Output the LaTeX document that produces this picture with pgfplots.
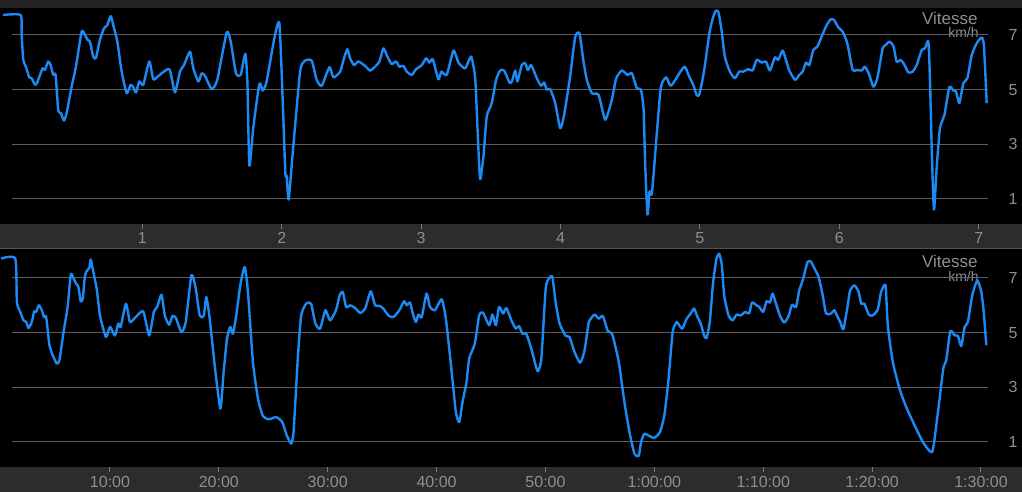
\documentclass[border=0pt]{standalone}
\usepackage{fontspec}
\setmainfont{Liberation Sans}
\usepackage{pgfplots}
\usepackage{pgfplotstable}
\pgfplotsset{compat=1.18}
\definecolor{topband}{HTML}{242424}
\definecolor{band}{HTML}{2C2C2E}
\definecolor{sep}{HTML}{555555}
\definecolor{gridc}{HTML}{5E5E5E}
\definecolor{tickc}{HTML}{7A7A7A}
\definecolor{txt}{HTML}{8E8E93}
\definecolor{linec}{HTML}{1C8AF5}

\pgfplotstableread{
km v
0 7.73
0.127 7.73
0.134 7.06
0.146 6.09
0.165 5.84
0.189 5.45
0.206 5.42
0.230 5.18
0.246 5.26
0.285 5.78
0.301 5.72
0.325 6.03
0.342 5.90
0.361 5.54
0.378 5.54
0.397 4.26
0.416 4.14
0.438 3.87
0.457 4.14
0.493 5.11
0.524 5.84
0.565 7.12
0.589 7.00
0.605 6.84
0.624 6.76
0.648 6.21
0.667 6.15
0.696 6.82
0.725 7.24
0.749 7.36
0.773 7.69
0.792 7.36
0.821 6.76
0.852 5.66
0.888 4.87
0.916 5.18
0.935 5.09
0.955 4.90
0.978 5.30
1.007 5.18
1.050 6.03
1.079 5.38
1.115 5.50
1.194 5.75
1.234 4.90
1.270 5.66
1.299 5.90
1.342 6.39
1.366 5.78
1.402 5.30
1.426 5.60
1.450 5.50
1.498 5.02
1.538 5.36
1.605 7.09
1.634 6.76
1.672 5.60
1.706 5.54
1.739 6.31
1.754 5.24
1.768 2.22
1.797 3.65
1.840 5.21
1.864 4.97
1.892 5.30
1.945 6.82
1.983 7.43
2.007 4.63
2.026 1.95
2.036 1.83
2.050 0.98
2.079 2.68
2.132 5.66
2.167 6.06
2.215 6.06
2.251 5.36
2.287 5.14
2.342 5.82
2.371 5.45
2.419 5.66
2.447 6.15
2.471 6.48
2.490 6.15
2.519 5.90
2.550 6.03
2.598 5.87
2.634 5.70
2.670 5.84
2.701 6.03
2.730 6.51
2.758 6.21
2.789 5.94
2.821 6.03
2.844 5.84
2.873 5.87
2.897 5.66
2.933 5.54
2.964 5.75
3.005 5.90
3.036 6.15
3.060 5.99
3.084 6.11
3.124 5.38
3.146 5.66
3.184 5.54
3.232 6.43
3.268 5.99
3.316 5.78
3.359 6.21
3.388 5.42
3.404 3.65
3.423 1.73
3.447 2.56
3.471 4.02
3.507 4.51
3.538 5.36
3.567 5.70
3.596 5.70
3.634 5.26
3.651 5.30
3.675 5.70
3.691 5.30
3.722 5.90
3.746 5.97
3.766 5.72
3.790 5.90
3.830 5.42
3.861 5.14
3.883 5.26
3.902 5.00
3.926 5.02
3.962 4.51
3.998 3.59
4.026 4.08
4.069 5.48
4.105 6.91
4.136 7.06
4.165 6.03
4.189 5.36
4.225 4.87
4.273 4.81
4.321 3.90
4.368 4.63
4.400 5.42
4.440 5.70
4.481 5.54
4.512 5.60
4.548 5.05
4.577 5.00
4.596 4.26
4.608 2.19
4.624 0.43
4.639 1.28
4.656 1.22
4.691 3.41
4.720 5.09
4.758 5.45
4.792 5.14
4.857 5.63
4.892 5.84
4.923 5.48
4.952 5.18
4.976 4.81
4.995 4.81
5.029 5.66
5.072 7.18
5.108 7.85
5.132 7.85
5.155 7.18
5.179 6.21
5.215 5.66
5.251 5.42
5.282 5.66
5.311 5.66
5.347 5.75
5.378 5.70
5.407 6.09
5.443 5.99
5.474 6.03
5.502 5.70
5.538 6.18
5.562 6.09
5.593 6.43
5.617 6.09
5.641 5.70
5.682 5.36
5.713 5.54
5.737 5.66
5.761 5.99
5.785 5.90
5.813 6.45
5.842 6.57
5.873 6.94
5.909 7.36
5.938 7.57
5.962 7.55
5.993 7.28
6.024 7.12
6.057 6.70
6.096 5.72
6.124 5.72
6.160 5.70
6.184 5.84
6.215 5.54
6.244 5.11
6.273 5.42
6.311 6.51
6.335 6.64
6.359 6.76
6.388 6.60
6.411 6.03
6.440 6.09
6.464 5.94
6.495 5.63
6.526 5.66
6.555 5.90
6.591 6.45
6.615 6.51
6.639 6.76
6.651 5.24
6.663 2.80
6.679 0.61
6.699 2.19
6.722 3.59
6.754 4.08
6.789 5.09
6.818 4.97
6.837 4.93
6.861 4.51
6.890 5.24
6.919 5.42
6.950 6.27
6.986 6.70
7.022 6.91
7.038 6.57
7.057 4.51
}\distdata

\pgfplotstableread{
t v
0 7.71
1.30 7.71
1.45 6.12
1.76 5.76
2.06 5.45
2.31 5.39
2.52 5.17
2.82 5.39
3.04 5.78
3.22 5.76
3.47 6.00
3.74 5.82
3.95 5.57
4.14 5.57
4.44 4.54
4.75 4.17
5.11 3.87
5.36 3.99
5.73 5.02
6.09 5.88
6.40 7.12
6.64 7.00
6.89 6.79
7.10 6.67
7.31 6.15
7.50 6.24
7.71 7.10
7.92 7.28
8.11 7.37
8.23 7.68
8.41 7.34
8.78 6.61
9.08 5.63
9.63 4.84
10.00 5.21
10.46 4.90
10.76 5.33
10.98 5.21
11.47 6.06
11.83 5.39
12.29 5.54
13.05 5.78
13.60 4.90
14.03 5.76
14.34 5.94
14.73 6.39
15.04 5.63
15.43 5.29
15.74 5.61
16.05 5.54
16.56 5.02
16.96 5.39
17.48 7.10
17.88 6.61
18.24 5.63
18.61 5.61
18.85 6.30
19.16 5.51
19.62 3.80
20.14 2.22
20.44 3.56
20.75 4.78
21.05 5.21
21.30 4.96
21.60 5.63
21.97 6.73
22.37 7.40
22.67 6.49
23.13 3.93
23.59 2.59
24.05 1.95
24.60 1.83
25.27 1.91
25.82 1.73
26.24 1.24
26.64 0.94
26.86 1.37
27.25 4.05
27.56 5.63
28.02 6.06
28.47 6.06
28.87 5.33
29.30 5.15
29.79 5.82
30.21 5.45
30.76 5.82
31.10 6.37
31.39 6.49
31.69 5.94
32.06 6.00
32.52 5.90
32.98 5.72
33.44 5.88
33.95 6.51
34.35 6.00
34.75 5.98
35.11 5.88
35.57 5.63
36.03 5.57
36.58 5.82
37.01 6.15
37.25 6.00
37.56 6.10
37.86 5.63
38.11 5.39
38.32 5.66
38.63 5.57
39.08 6.43
39.39 5.94
39.85 5.82
40.46 6.22
40.85 5.51
41.37 3.62
41.77 2.10
42.08 1.73
42.38 2.46
42.75 3.20
42.99 4.05
43.51 4.60
43.91 5.63
44.27 5.73
44.82 5.27
45.13 5.66
45.44 5.27
45.74 5.94
46.11 5.70
46.41 5.90
46.87 5.45
47.27 5.15
47.57 5.24
47.88 4.96
48.24 4.96
48.70 4.41
49.10 3.80
49.31 3.59
49.62 4.05
50.02 6.61
50.32 6.98
50.63 7.04
50.93 6.12
51.30 5.33
51.85 4.88
52.21 4.84
52.67 4.29
53.19 3.90
53.59 4.35
53.98 5.37
54.50 5.66
54.90 5.51
55.27 5.61
55.73 5.05
56.12 4.96
56.73 3.93
57.25 2.46
57.71 1.37
58.17 0.57
58.56 0.49
58.78 1.00
59.08 1.30
59.54 1.22
60.00 1.15
60.52 1.37
60.92 1.98
61.31 3.32
61.68 5.02
62.05 5.39
62.28 5.27
62.58 5.15
62.94 5.49
63.34 5.70
63.65 5.88
63.96 5.57
64.26 5.33
64.57 4.90
64.79 4.80
65.09 5.39
65.40 6.85
65.71 7.71
65.95 7.89
66.20 7.46
66.41 6.37
66.81 5.63
67.18 5.45
67.55 5.66
67.94 5.63
68.34 5.76
68.71 5.70
68.96 6.10
69.39 6.00
69.63 5.94
70.00 5.76
70.31 6.15
70.61 6.10
70.86 6.43
71.17 6.06
71.53 5.63
71.93 5.37
72.33 5.61
72.64 6.02
73.01 5.94
73.31 6.55
73.62 6.91
74.08 7.59
74.39 7.59
74.79 7.28
75.09 7.04
75.46 6.37
75.77 5.70
76.23 5.70
76.53 5.82
76.84 5.57
77.09 5.37
77.36 5.12
77.76 6.00
77.98 6.55
78.37 6.73
78.77 6.49
78.99 6.06
79.29 6.06
79.69 5.66
80.06 5.63
80.52 5.85
80.83 6.49
81.23 6.73
81.44 5.27
81.90 3.93
82.52 2.95
83.13 2.28
83.90 1.61
84.66 1.00
85.21 0.70
85.52 0.63
85.74 1.12
86.20 2.59
86.56 3.74
86.81 3.99
87.18 5.05
87.58 4.90
87.88 4.88
88.19 4.51
88.50 5.21
88.80 5.39
89.20 6.37
89.66 6.91
90.03 6.49
90.25 5.76
90.49 4.54
}\timedata

\pgfplotsset{panel/.style={
  scale only axis, width=488pt,
  axis line style={draw=none},
  clip=false,
  ymajorgrids, grid style={gridc, line width=0.5pt},
  ytick={1,3,5,7},
  yticklabels={1,3,5,7},
  yticklabel pos=right,
  ytick style={draw=none},
  yticklabel style={anchor=center, xshift=12.5pt, font=\fontsize{8}{9}\selectfont, text=txt},
  xtick pos=bottom,
  major tick length=2.5pt,
  xtick style={tickc, line width=0.5pt, yshift=-2.5pt},
  xticklabel style={anchor=base, yshift=-10pt, font=\fontsize{8}{9}\selectfont, text=txt},
}}

\begin{document}
\begin{tikzpicture}[x=0.5pt,y=0.5pt]
\path[use as bounding box] (0,0) rectangle (1022,492);
\fill[black] (0,0) rectangle (1022,492);
\fill[topband] (0,484) rectangle (1022,492);
\fill[band] (0,244) rectangle (1022,268);
\draw[sep, line width=0.75pt] (0,243.5) -- (1022,243.5);
\fill[band] (0,0) rectangle (1022,25);

\node[anchor=base east, inner sep=0pt, text=txt, font=\fontsize{8.5}{10}\selectfont] at (978,467) {Vitesse};
\node[anchor=base east, inner sep=0pt, text=txt, font=\fontsize{7}{8}\selectfont] at (979,454) {km/h};
\node[anchor=base east, inner sep=0pt, text=txt, font=\fontsize{8.5}{10}\selectfont] at (978,224) {Vitesse};
\node[anchor=base east, inner sep=0pt, text=txt, font=\fontsize{7}{8}\selectfont] at (979,210) {km/h};

\begin{axis}[panel, at={(6pt,134pt)}, anchor=south west, height=108pt,
  xmin=0.0653, xmax=7.0667, ymin=0.085, ymax=7.988,
  xtick={1,2,3,4,5,6,7}, xticklabels={1,2,3,4,5,6,7}]
\addplot[linec, line width=1.2pt, line join=round, smooth, tension=0.35] table[x=km, y=v] {\distdata};
\end{axis}

\begin{axis}[panel, at={(6pt,12.5pt)}, anchor=south west, height=108.5pt,
  xmin=1.001, xmax=90.645, ymin=0.085, ymax=8.024,
  xtick={10,20,30,40,50,60,70,80,90},
  xticklabels={10:00,20:00,30:00,40:00,50:00,1:00:00,1:10:00,1:20:00,1:30:00}]
\addplot[linec, line width=1.2pt, line join=round, smooth, tension=0.35] table[x=t, y=v] {\timedata};
\end{axis}
\end{tikzpicture}
\end{document}
